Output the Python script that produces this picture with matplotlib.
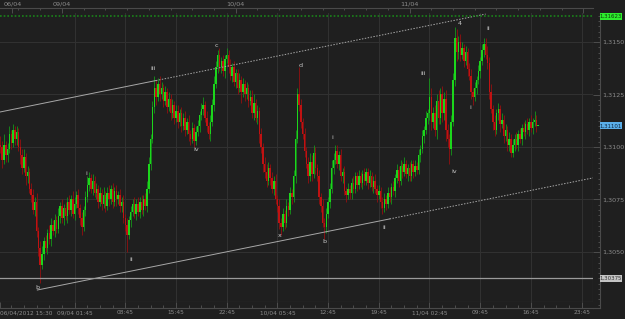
import numpy as np
import matplotlib
matplotlib.use('Agg')
import matplotlib.pyplot as plt
from matplotlib.patches import Rectangle
from matplotlib import transforms
from matplotlib.ticker import FixedLocator, FuncFormatter, MultipleLocator

plt.rcParams['font.family'] = ['Liberation Sans Narrow', 'DejaVu Sans']

# EUR/USD 15 分钟K线, 收盘价以 1.3000 之上的点数记录
first_open = 101
close_pips = [
    100, 94, 101, 96, 99, 106, 102, 108, 104, 107, 100, 96,      # 0-11
    90, 95, 86, 88, 80, 77,                                      # 12-17
    70, 74, 60, 52, 44, 49, 55,                                  # 18-24
    52, 59, 56, 63, 60, 65, 61, 67, 72, 66, 71,                  # 25-35
    67, 74, 70, 75, 68, 73, 77, 71, 66, 62, 70, 76,              # 36-47
    82, 85, 80, 84, 78, 80,                                      # 48-53
    74, 78, 73, 77, 72, 78, 75, 80, 74, 79, 75, 77, 72,          # 54-66
    74, 66, 63, 58, 65, 69, 73,                                  # 67-73
    68, 73, 69, 74, 70, 75, 72, 80,                              # 74-81
    92, 104, 119, 128, 124,                                      # 82-86
    130, 125, 128, 122, 126, 119, 123, 116, 120, 114, 117,       # 87-97
    112, 116, 110, 114, 108, 112, 106, 104, 109, 103, 107,       # 98-108
    110, 115, 118, 120, 114, 110, 106, 112,                      # 109-116
    120, 130, 138, 144, 138, 141,                                # 117-122
    136, 142, 144, 138, 134, 138, 131, 135,                      # 123-130
    128, 132, 126, 130, 125, 128, 122, 124,                      # 131-138
    116, 121, 114, 117, 106, 100, 92, 88,                        # 139-146
    84, 90, 85, 80, 84, 75, 72, 64, 62,                          # 147-155
    68, 64, 72, 70, 78, 76, 86, 104, 125, 120,                   # 156-165
    112, 106, 98, 92, 86, 93, 87,                                # 166-172
    97, 90, 86, 76, 72, 64, 62,                                  # 173-179
    68, 74, 80, 90, 94, 98,                                      # 180-185
    92, 96, 86, 88, 79, 77, 80, 78,                              # 186-193
    83, 80, 86, 82, 86, 83, 87, 84, 88, 83, 86, 81, 84, 80,      # 194-207
    77, 79, 74, 71, 75, 73, 78,                                  # 208-214
    76, 81, 79, 85, 89, 84, 91,                                  # 215-221
    88, 92, 87, 90, 86, 92, 88, 91, 89,                          # 222-230
    96, 99, 105, 108, 114, 116,                                  # 231-236
    124, 112, 116,                                               # 237-239
    108, 122, 114, 125, 116, 123, 108,                           # 240-246
    104, 99, 112,                                                # 247-249
    132, 152, 145, 150,                                          # 250-253
    144, 147, 141, 145, 137, 134,                                # 254-259
    126, 124, 128, 132,                                          # 260-263
    136, 141, 146, 149, 144, 140,                                # 264-269
    126, 118, 112, 108, 116, 118, 111,                           # 270-276
    113, 105, 108, 101, 104, 97, 101,                            # 277-283
    104, 101, 106, 104, 109, 107, 111,                           # 284-290
    108, 112, 109, 112, 113, 110, 110.1,                         # 291-297
]
up_wick = [
    4, 3, 5, 2, 3, 4, 2, 3, 2, 3, 2, 4,
    3, 4, 2, 3, 2, 3,
    3, 2, 4, 2, 3, 4, 2,
    3, 2, 4, 3, 2, 3, 2, 4, 2, 3, 2,
    3, 2, 3, 2, 4, 3, 2, 3, 2, 3, 2, 3,
    4, 3, 2, 3, 2, 3,
    2, 3, 2, 4, 2, 3, 4, 2, 3, 2, 3, 2, 3,
    2, 3, 2, 3, 2, 3, 2,
    3, 2, 3, 2, 3, 2, 3, 4,
    3, 2, 3, 6, 4,
    3, 4, 3, 2, 3, 2, 3, 2, 3, 2, 3,
    3, 2, 3, 2, 3, 2, 3, 2, 3, 2, 3,
    3, 2, 3, 4, 2, 3, 2, 3,
    3, 4, 3, 2, 3, 2,
    3, 2, 3, 2, 4, 2, 3, 2,
    2, 3, 2, 3, 2, 3, 2, 3,
    3, 4, 2, 3, 2, 3, 2, 3,
    4, 3, 2, 3, 2, 3, 2, 3, 2,
    3, 2, 3, 2, 3, 2, 3, 4, 3, 13,
    3, 2, 3, 2, 3, 4, 3,
    4, 3, 2, 3, 2, 3, 2,
    3, 2, 3, 4, 3, 3,
    3, 2, 3, 2, 3, 2, 3, 2,
    2, 3, 2, 2, 3, 2, 2, 3, 2, 2, 3, 2, 2, 3,
    2, 3, 2, 2, 3, 2, 3,
    3, 2, 3, 2, 3, 2, 3,
    2, 3, 2, 2, 3, 2, 2, 3, 2,
    3, 2, 3, 2, 3, 2,
    9, 4, 3,
    4, 3, 5, 3, 4, 3, 4,
    3, 2, 3,
    3, 5, 4, 3,
    4, 3, 2, 3, 2, 3,
    3, 2, 3, 2,
    3, 2, 3, 3, 3, 4,
    3, 4, 2, 3, 2, 3, 2,
    3, 2, 3, 2, 3, 2, 3,
    2, 3, 2, 3, 2, 3, 2,
    3, 2, 3, 2, 4, 2, 0,
]
dn_wick = [
    3, 4, 2, 3, 3, 2, 3, 2, 3, 3, 2, 4,
    3, 2, 4, 3, 2, 3,
    2, 3, 3, 4, 9, 2, 3,
    2, 3, 2, 3, 2, 3, 2, 2, 3, 2, 3,
    2, 3, 2, 3, 2, 3, 2, 3, 3, 4, 2, 3,
    2, 3, 2, 3, 2, 3,
    3, 2, 3, 2, 3, 2, 3, 2, 3, 2, 3, 2, 3,
    3, 2, 3, 8, 2, 3, 2,
    2, 3, 2, 3, 2, 3, 2, 3,
    2, 3, 2, 3, 4,
    2, 3, 2, 3, 2, 3, 2, 3, 2, 3, 2,
    3, 2, 3, 2, 3, 2, 3, 3, 2, 3, 2,
    2, 3, 2, 3, 2, 3, 2, 3,
    2, 3, 2, 3, 2, 3,
    2, 3, 2, 3, 2, 3, 2, 3,
    3, 2, 5, 2, 3, 2, 3, 2,
    2, 3, 2, 3, 4, 3, 4, 3,
    3, 2, 3, 2, 3, 2, 3, 3, 4,
    2, 3, 2, 3, 2, 3, 2, 3, 2, 3,
    3, 2, 3, 2, 3, 2, 3,
    2, 3, 2, 3, 3, 2, 6,
    3, 2, 3, 2, 3, 2,
    2, 3, 2, 3, 2, 3, 2, 3,
    3, 2, 2, 3, 2, 2, 3, 2, 2, 3, 2, 2, 3, 2,
    3, 2, 3, 3, 2, 3, 2,
    2, 3, 2, 3, 2, 3, 2,
    3, 2, 2, 3, 2, 2, 3, 2, 2,
    2, 3, 2, 3, 2, 3,
    3, 4, 3,
    3, 4, 3, 3, 4, 3, 5,
    4, 7, 3,
    2, 3, 4, 3,
    3, 2, 3, 2, 3, 2,
    3, 4, 2, 3,
    2, 3, 2, 3, 2, 3,
    3, 2, 4, 3, 2, 3, 4,
    2, 3, 2, 3, 3, 2, 2,
    3, 2, 3, 2, 3, 2, 3,
    2, 3, 2, 3, 2, 3, 0,
]

time_labels = ['06/04/2012 15:30', '09/04 01:45', '08:45', '15:45', '22:45', '10/04 05:45',
               '12:45', '19:45', '11/04 02:45', '09:45', '16:45', '23:45']
time_idx = [0, 41, 69, 97, 125, 153, 181, 209, 237, 265, 293, 321]
date_labels = ['06/04', '09/04', '10/04', '11/04', '']
date_idx = [6.6, 34, 130, 226, 322]
price_ticks = [1.3050, 1.3075, 1.3100, 1.3125, 1.3150]

wave_text = ['b', 'i', 'ii', 'iii', 'iv', 'c', 'x', 'd', 'b', 'i', 'ii',
             'iii', 'iv', '4', 'i', 'ii']
wave_idx = [20.4, 47.5, 72.3, 84.5, 108.2, 119.3, 154.1, 165.7, 178.9, 183.3, 212,
            233.6, 250.7, 253.5, 259.5, 269.5]
wave_price = [1.30329, 1.30876, 1.30462, 1.31376, 1.30986, 1.31481, 1.30577, 1.31386,
              1.30548, 1.31043, 1.30619, 1.31352, 1.30881, 1.31590, 1.31186, 1.31562]

upper_chan_idx = [0, 268]
upper_chan_px = [1.31167, 1.31633]
upper_solid_to = 86
lower_chan_idx = [20.4, 327.4]
lower_chan_px = [1.30319, 1.30853]
lower_solid_to = 215

support_level = 1.30375
session_high = 1.31623
last_price = 1.31101

BG = '#1f1f1f'
GRID = '#313131'
TXT = '#8c8c8c'
FS = 4.6

pp = 0.0025 / 52.5          # price per pixel
ylo, yhi = 1.3150 - 260 * pp, 1.3150 + 29 * pp
xlo, xhi = -0.2, 327.3

fig = plt.figure(figsize=(6.25, 3.19), dpi=100, facecolor=BG)
ax = fig.add_axes([0, 17 / 319, 593 / 625, 289 / 319], facecolor=BG)
ax.set_xlim(xlo, xhi)
ax.set_ylim(ylo, yhi)
ax.set_xticks([])
ax.set_yticks([])
for s in ['left', 'top']:
    ax.spines[s].set_visible(False)
for s in ['right', 'bottom']:
    ax.spines[s].set_color('#4a4a4a')
    ax.spines[s].set_linewidth(0.8)

for t in time_idx[1:]:
    ax.axvline(t, color=GRID, lw=0.8, zorder=0)
for p in price_ticks:
    ax.axhline(p, color=GRID, lw=0.8, zorder=0)

# candles
c = 1.3 + np.array(close_pips) / 1e4
o = np.r_[1.3 + first_open / 1e4, c[:-1]]
hi = np.maximum(o, c) + np.array(up_wick) / 1e4
lo = np.minimum(o, c) - np.array(dn_wick) / 1e4
idx = np.arange(len(c))
bull = c >= o
ax.vlines(idx[bull], lo[bull], hi[bull], color='#15961a', lw=0.6, zorder=2)
ax.vlines(idx[~bull], lo[~bull], hi[~bull], color='#941010', lw=0.6, zorder=2)
body = np.maximum(np.abs(c - o), 0.8 * pp)
cols = np.where(bull, '#1cd61c', '#c01212')
ax.bar(idx, body, bottom=np.minimum(o, c), width=0.8, color=cols, linewidth=0, zorder=3)

# channel lines
up_cut = np.interp(upper_solid_to, upper_chan_idx, upper_chan_px)
ax.plot([upper_chan_idx[0], upper_solid_to], [upper_chan_px[0], up_cut], color='#a8a8a8', lw=0.7, zorder=4)
ax.plot([upper_solid_to, upper_chan_idx[1]], [up_cut, upper_chan_px[1]], color='#a8a8a8', lw=0.7,
        ls=(0, (1.5, 1.5)), zorder=4)
lo_cut = np.interp(lower_solid_to, lower_chan_idx, lower_chan_px)
ax.plot([lower_chan_idx[0], lower_solid_to], [lower_chan_px[0], lo_cut], color='#a8a8a8', lw=0.7, zorder=4)
ax.plot([lower_solid_to, lower_chan_idx[1]], [lo_cut, lower_chan_px[1]], color='#a8a8a8', lw=0.7,
        ls=(0, (1.5, 1.5)), zorder=4)

ax.axhline(support_level, color='#9a9a9a', lw=0.9, zorder=4)
ax.axhline(session_high, color='#1a821a', lw=1.2, ls=(0, (1, 1.2)), zorder=4)

for t, xi, yp in zip(wave_text, wave_idx, wave_price):
    ax.text(xi, yp, t, color='#c8c8c8', fontsize=4.6, ha='center', va='center', zorder=5)

# bottom time strip
axb = fig.add_axes([0, 11 / 319, 593 / 625, 6 / 319], facecolor=BG)
axb.set_xlim(xlo, xhi)
axb.set_yticks([])
for s in ['left', 'top', 'right']:
    axb.spines[s].set_visible(False)
axb.spines['bottom'].set_color('#4a4a4a')
axb.spines['bottom'].set_linewidth(0.8)
axb.xaxis.set_major_locator(FixedLocator(time_idx))
axb.xaxis.set_minor_locator(MultipleLocator(7, offset=6))
axb.set_xticklabels(time_labels)
axb.tick_params(axis='x', which='major', direction='in', length=4.3, width=0.6, color='#555555',
                labelsize=4.2, labelcolor=TXT, pad=1.5)
axb.tick_params(axis='x', which='minor', direction='in', length=2.5, width=0.6, color='#555555')
axb.get_xticklabels()[0].set_ha('left')

# top date strip
axt = fig.add_axes([0, 306 / 319, 593 / 625, 5 / 319], facecolor=BG)
axt.set_xlim(xlo, xhi)
axt.set_yticks([])
for s in ['left', 'bottom', 'right']:
    axt.spines[s].set_visible(False)
axt.spines['top'].set_color('#4a4a4a')
axt.spines['top'].set_linewidth(0.8)
axt.xaxis.tick_top()
axt.xaxis.set_major_locator(FixedLocator(date_idx))
axt.xaxis.set_minor_locator(MultipleLocator(12, offset=10))
axt.set_xticklabels(date_labels)
axt.tick_params(axis='x', which='major', direction='in', length=3.6, width=0.6, color='#555555',
                labelsize=FS, labelcolor=TXT, pad=0.8)
axt.tick_params(axis='x', which='minor', direction='in', length=1.6, width=0.6, color='#555555')

# right price strip
axr = fig.add_axes([593 / 625, 11 / 319, 7 / 625, 295 / 319], facecolor=BG)
axr.set_ylim(ylo - 6 * pp, yhi)
axr.set_xticks([])
for s in ['left', 'top']:
    axr.spines[s].set_visible(False)
for s in ['right', 'bottom']:
    axr.spines[s].set_color('#4a4a4a')
    axr.spines[s].set_linewidth(0.8)
axr.yaxis.tick_right()
axr.yaxis.set_major_locator(FixedLocator(price_ticks))
axr.yaxis.set_minor_locator(MultipleLocator(0.00025))
axr.yaxis.set_major_formatter(FuncFormatter(lambda v, p: f'{v:.4f}'.replace('.', ',')))
axr.tick_params(axis='y', which='major', direction='in', length=5, width=0.6, color='#555555',
                labelsize=FS, labelcolor=TXT, pad=1.5)
axr.tick_params(axis='y', which='minor', direction='in', length=1.5, width=0.6, color='#555555')

# price flags
tr = transforms.blended_transform_factory(fig.transFigure, ax.transData)
flags = [(session_high, '#2ded2d', '#0c3a0c'), (last_price, '#5aaee8', '#0b2540'),
         (support_level, '#c4c4c4', '#333333')]
for val, fc, tc in flags:
    fig.patches.append(Rectangle((600 / 625, val - 3.5 * pp), 22 / 625, 7 * pp, transform=tr,
                                 facecolor=fc, edgecolor='none', zorder=6))
    fig.text(611 / 625, val, f'{val:.5f}'.replace('.', ','), transform=tr, fontsize=3.9,
             color=tc, ha='center', va='center', zorder=7)

fig.savefig('out.png', dpi=100, facecolor=BG)
